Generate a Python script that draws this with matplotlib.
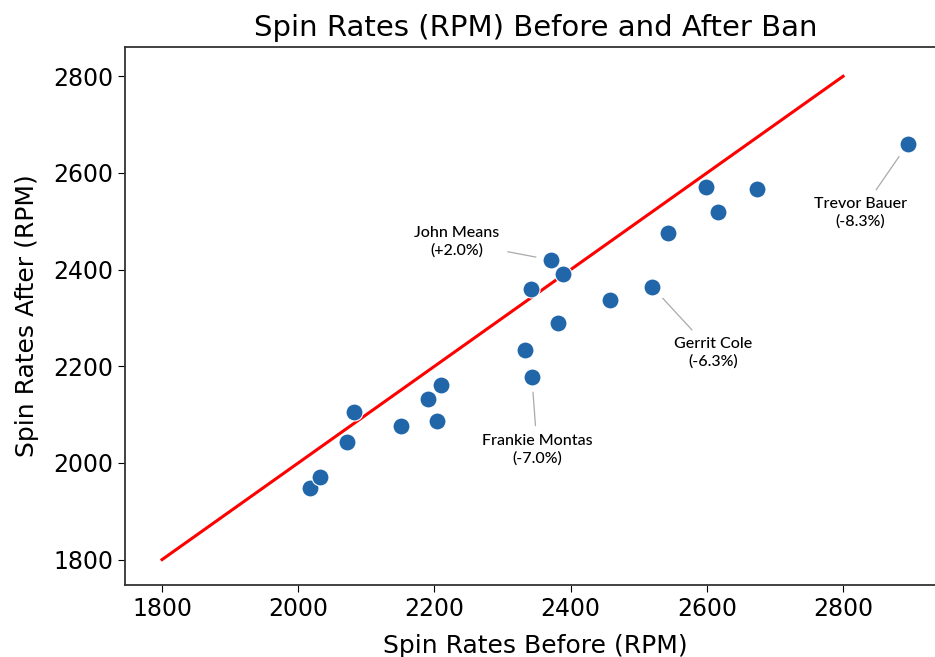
import matplotlib
matplotlib.use("Agg")
import matplotlib.pyplot as plt

# spin rates (RPM)
before = [2017, 2032, 2072, 2082, 2151, 2191, 2204, 2210, 2333, 2343,
          2342, 2371, 2389, 2381, 2458, 2520, 2543, 2599, 2616, 2674, 2895]
after = [1949, 1971, 2044, 2106, 2077, 2133, 2087, 2162, 2234, 2178,
         2360, 2420, 2391, 2290, 2337, 2364, 2476, 2571, 2519, 2567, 2660]

# labelled pitchers
names = ["Trevor Bauer", "Gerrit Cole", "Frankie Montas", "John Means"]
changes = ["(-8.3%)", "(-6.3%)", "(-7.0%)", "(+2.0%)"]
name_before = [2895, 2520, 2343, 2371]
name_after = [2660, 2364, 2178, 2420]
label_x = [2825, 2609, 2351, 2233]
label_y = [2517, 2228, 2027, 2457]

ref_line = [1800, 2800]

fig = plt.figure(figsize=(9.35, 6.57), dpi=100)
# axes runs a little past the right edge of the picture, like the original crop
ax = fig.add_axes([0.134, 0.110, 0.877, 0.818])

ax.plot(ref_line, ref_line, color="red", lw=2.2, zorder=1)
ax.scatter(before, after, s=150, color="#2166a8", edgecolors="white",
           linewidths=0.8, zorder=2)

for n, c, bx, ay, tx, ty in zip(names, changes, name_before, name_after, label_x, label_y):
    ax.annotate(n + "\n" + c, xy=(bx, ay), xytext=(tx, ty),
                ha="center", va="center", fontsize=11.5, family="Lato",
                weight="medium", linespacing=1.3,
                arrowprops=dict(arrowstyle="-", color="#aaaaaa", lw=0.9,
                                shrinkA=4, shrinkB=11))

ax.set_xlim(1746, 1746 + 0.877 * 935 / 0.681)
ax.set_ylim(1748, 2860)
ax.set_xticks([1800, 2000, 2200, 2400, 2600, 2800])
ax.set_yticks([1800, 2000, 2200, 2400, 2600, 2800])
ax.tick_params(labelsize=17, length=5)
ax.set_xlabel("Spin Rates Before (RPM)", fontsize=18, labelpad=10)
ax.set_ylabel("Spin Rates After (RPM)", fontsize=18, labelpad=10)
ax.set_title("Spin Rates (RPM) Before and After Ban", fontsize=21, pad=8)
ax.spines["right"].set_visible(False)
for sp in ax.spines.values():
    sp.set_linewidth(1.3)
    sp.set_color("#333333")

plt.savefig("out.png", dpi=100)
